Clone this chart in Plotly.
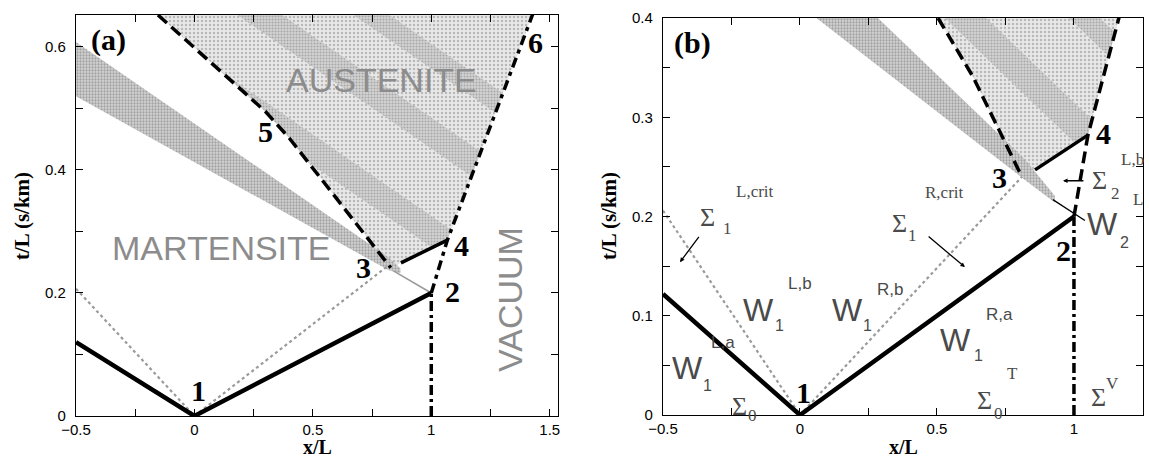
import plotly.graph_objects as go

# ---------------- Panel (a) data ----------------
a_front_x = [-0.5, 0.0, 1.0]
a_front_y = [0.12, 0.0, 0.2]
a_char_x = [-0.5, 0.0, 0.82]
a_char_y = [0.207, 0.0, 0.245]
a_tail_x = [0.84, 1.0]
a_tail_y = [0.236, 0.2]
a_wall_x = [1.0, 1.0]
a_wall_y = [0.0, 0.2]
a_right_x = [1.0, 1.068, 1.427, 1.45]
a_right_y = [0.2, 0.286, 0.652, 0.675]
a_left_x = [-0.154, 0.30, 0.40, 0.55, 0.70, 0.829]
a_left_y = [0.652, 0.495, 0.452, 0.378, 0.305, 0.241]
a_seg_x = [0.872, 1.068]
a_seg_y = [0.249, 0.286]
a_band_x = [-0.5, 0.82, 0.87, 0.87, 0.82, -0.5]
a_band_y = [0.608, 0.258, 0.24, 0.232, 0.237, 0.52]
a_aust_x = a_left_x + [0.872, 1.068, 1.427]
a_aust_y = a_left_y + [0.249, 0.286, 0.652]

# ---------------- Panel (b) data ----------------
b_front_x = [-0.5, 0.0, 1.0]
b_front_y = [0.122, 0.0, 0.2]
b_char_x = [-0.5, 0.0, 0.81]
b_char_y = [0.206, 0.0, 0.24]
b_wall_x = [1.0, 1.0]
b_wall_y = [0.0, 0.2]
b_right_x = [1.0, 1.051, 1.164, 1.18]
b_right_y = [0.2, 0.282, 0.4, 0.417]
b_left_x = [0.504, 0.631, 0.81]
b_left_y = [0.4, 0.341, 0.24]
b_seg_x = [0.858, 1.051]
b_seg_y = [0.247, 0.282]
b_band_x = [-0.5, 0.82, 0.93, 0.93, 0.82, -0.5]
b_band_y = [0.608, 0.258, 0.221, 0.214, 0.237, 0.52]
b_lead_x = [0.923, 1.04]
b_lead_y = [0.217, 0.196]
b_aust_x = b_left_x + [0.858, 1.051, 1.164]
b_aust_y = b_left_y + [0.247, 0.282, 0.4]

# stripe intercepts (y + 0.265 x = c) inside austenite
stripe_slope = -0.265
stripes_a = [(0.54, 0.59), (0.70, 0.75), (0.83, 0.87)]
stripes_b = [(0.54, 0.58), (0.66, 0.69)]

A_XR = [-0.5, 1.535]
A_YR = [0.0, 0.652]
B_XR = [-0.5, 1.252]
B_YR = [0.0, 0.4]


def clip_poly(subject, clip):
    def inside(p, a, b):
        return (b[0]-a[0])*(p[1]-a[1]) - (b[1]-a[1])*(p[0]-a[0]) >= 0

    def inter(p1, p2, a, b):
        x1, y1 = p1; x2, y2 = p2; x3, y3 = a; x4, y4 = b
        den = (x1-x2)*(y3-y4) - (y1-y2)*(x3-x4)
        if den == 0:
            return p2
        t = ((x1-x3)*(y3-y4) - (y1-y3)*(x3-x4)) / den
        return (x1 + t*(x2-x1), y1 + t*(y2-y1))

    out = subject[:]
    for i in range(len(clip)):
        a = clip[i]; b = clip[(i+1) % len(clip)]
        inp = out; out = []
        if not inp:
            break
        s = inp[-1]
        for e in inp:
            if inside(e, a, b):
                if not inside(s, a, b):
                    out.append(inter(s, e, a, b))
                out.append(e)
            elif inside(s, a, b):
                out.append(inter(s, e, a, b))
            s = e
    return out


def stripe_poly(c1, c2):
    x0, x1 = -2.0, 3.0
    return [(x0, c1 + stripe_slope*x0),
            (x1, c1 + stripe_slope*x1),
            (x1, c2 + stripe_slope*x1),
            (x0, c2 + stripe_slope*x0)]


fig = go.Figure()


def add_line(x, y, xa, ya, color='black', width=4, dash='solid'):
    fig.add_trace(go.Scatter(x=x, y=y, mode='lines', xaxis=xa, yaxis=ya,
                             line=dict(color=color, width=width, dash=dash),
                             hoverinfo='skip', showlegend=False))


def add_fill(x, y, xa, ya, bg, fg, size=4, sol=0.35):
    fig.add_trace(go.Scatter(x=list(x) + [x[0]], y=list(y) + [y[0]], mode='lines',
                             xaxis=xa, yaxis=ya, fill='toself',
                             fillcolor=bg, line=dict(width=0, color=bg),
                             fillpattern=dict(shape='.', fgcolor=fg, bgcolor=bg,
                                              size=size, solidity=sol),
                             hoverinfo='skip', showlegend=False))


def add_panel(xa, ya, aust_x, aust_y, band_x, band_y, stripes):
    add_fill(aust_x, aust_y, xa, ya, '#e8e8e8', '#8a8a8a', 4, 0.3)
    subj = list(zip(aust_x, aust_y))
    for c1, c2 in stripes:
        pts = clip_poly(subj, stripe_poly(c1, c2))
        if len(pts) >= 3:
            add_fill([p[0] for p in pts], [p[1] for p in pts], xa, ya,
                     '#d2d2d2', '#7a7a7a', 3, 0.35)
    add_fill(band_x, band_y, xa, ya, '#d4d4d4', '#6e6e6e', 3, 0.45)


# panel (a)
add_panel('x', 'y', a_aust_x, a_aust_y, a_band_x, a_band_y, stripes_a)
add_line(a_char_x, a_char_y, 'x', 'y', '#9a9a9a', 2.2, 'dot')
add_line(a_tail_x, a_tail_y, 'x', 'y', '#9a9a9a', 1.6, 'solid')
add_line(a_front_x, a_front_y, 'x', 'y', 'black', 4.5)
add_line(a_wall_x, a_wall_y, 'x', 'y', 'black', 3.5, '10px,4px,3px,4px')
add_line(a_right_x, a_right_y, 'x', 'y', 'black', 3.5, '10px,5px,4px,5px')
add_line(a_left_x, a_left_y, 'x', 'y', 'black', 3.5, '12px,6px')
add_line(a_seg_x, a_seg_y, 'x', 'y', 'black', 3.5)

# panel (b)
add_panel('x2', 'y2', b_aust_x, b_aust_y, b_band_x, b_band_y, stripes_b)
add_line(b_char_x, b_char_y, 'x2', 'y2', '#9a9a9a', 2.2, 'dot')
add_line(b_lead_x, b_lead_y, 'x2', 'y2', 'black', 1.3)
add_line(b_front_x, b_front_y, 'x2', 'y2', 'black', 4.5)
add_line(b_wall_x, b_wall_y, 'x2', 'y2', 'black', 3.5, '10px,4px,3px,4px')
add_line(b_right_x, b_right_y, 'x2', 'y2', 'black', 3.5, '12px,6px')
add_line(b_left_x, b_left_y, 'x2', 'y2', 'black', 3.5, '12px,6px')
add_line(b_seg_x, b_seg_y, 'x2', 'y2', 'black', 3.5)

W, H = 1149, 461
SERIF = 'Liberation Serif, Times New Roman, serif'
SANS = 'Liberation Sans, Arial, sans-serif'

tickfont = dict(family=SANS, size=15, color='black')


def axis(domain, rng, tickvals, ticktext, minor_dtick, anchor, standoff):
    return dict(domain=domain, range=rng, anchor=anchor, automargin=False,
                showline=True, linecolor='black', linewidth=1.3, mirror='ticks',
                ticks='inside', ticklen=7, tickwidth=1, tickcolor='black',
                tickmode='array', tickvals=tickvals, ticktext=ticktext,
                minor=dict(ticks='inside', ticklen=7, dtick=minor_dtick,
                           tickcolor='black', showgrid=False),
                showgrid=False, zeroline=False, tickfont=tickfont,
                ticklabelstandoff=standoff)


fig.update_layout(
    width=W, height=H, margin=dict(l=0, r=0, t=0, b=0, pad=0, autoexpand=False),
    paper_bgcolor='white', plot_bgcolor='white', showlegend=False,
    xaxis=axis([76/W, 558/W], A_XR, [-0.5, 0, 0.5, 1, 1.5],
               ['\u22120.5', '0', '0.5', '1', '1.5'], 0.25, 'y', 0),
    yaxis=axis([(H-416)/H, (H-15)/H], A_YR, [0, 0.2, 0.4, 0.6],
               ['0', '0.2', '0.4', '0.6'], 0.1, 'x', 6),
    xaxis2=axis([663/W, 1143/W], B_XR, [-0.5, 0, 0.5, 1],
                ['\u22120.5', '0', '0.5', '1'], 0.25, 'y2', 0),
    yaxis2=axis([(H-415)/H, (H-18)/H], B_YR, [0, 0.1, 0.2, 0.3, 0.4],
                ['0', '0.1', '0.2', '0.3', '0.4'], 0.05, 'x2', 6),
)

ann = []


def txt(x, y, s, xr, yr, size, family=SERIF, color='black', bold=False, angle=0,
        yanchor='middle'):
    ann.append(dict(x=x, y=y, xref=xr, yref=yr, text=('<b>%s</b>' % s) if bold else s,
                    showarrow=False, textangle=angle, xanchor='center', yanchor=yanchor,
                    font=dict(family=family, size=size, color=color)))


# axis titles
for cx in (317, 903):
    txt(cx/W, 1.0/H, 'x/L', 'paper', 'paper', 20, bold=True, yanchor='bottom')
for cx in (22, 609):
    txt(cx/W, (H-216)/H, 't/L (s/km)', 'paper', 'paper', 21, bold=True, angle=-90)

# panel (a) labels
a_num_x = [0.017, 1.09, 0.714, 1.128, 0.299, 1.44]
a_num_y = [0.041, 0.202, 0.241, 0.278, 0.462, 0.607]
a_num_t = ['1', '2', '3', '4', '5', '6']
for x, y, t in zip(a_num_x, a_num_y, a_num_t):
    txt(x, y, t, 'x', 'y', 30, bold=True)
txt(-0.363, 0.611, '(a)', 'x', 'y', 30, bold=True)
txt(0.791, 0.546, 'AUSTENITE', 'x', 'y', 34, SANS, '#8c8c8c')
txt(0.115, 0.273, 'MARTENSITE', 'x', 'y', 34, SANS, '#8c8c8c')
txt(1.333, 0.189, 'VACUUM', 'x', 'y', 34, SANS, '#8c8c8c', angle=-90)

# panel (b) labels
b_num_x = [0.011, 0.96, 0.73, 1.106]
b_num_y = [0.023, 0.166, 0.239, 0.284]
for x, y, t in zip(b_num_x, b_num_y, a_num_t[:4]):
    txt(x, y, t, 'x2', 'y2', 30, bold=True)
txt(-0.391, 0.375, '(b)', 'x2', 'y2', 30, bold=True)

GREY = '#4a4a4a'
# W labels: (x, y, sub, sub_x, sub_y, sup, sup_x, sup_y)
w_labels = [
    (-0.153, 0.106, '1', -0.073, 0.090, 'L,b', 0.0, 0.133),
    (0.175, 0.106, '1', 0.245, 0.090, 'R,b', 0.328, 0.126),
    (-0.409, 0.047, '1', -0.339, 0.030, 'L,a', -0.281, 0.073),
    (0.566, 0.076, '1', 0.650, 0.060, 'R,a', 0.730, 0.101),
    (1.105, 0.192, '2', 1.186, 0.174, '', 0, 0),
]
for wx, wy, sb, sx, sy, sp, px, py in w_labels:
    txt(wx, wy, 'W', 'x2', 'y2', 32, SANS, GREY)
    txt(sx, sy, sb, 'x2', 'y2', 16, SANS, GREY)
    if sp:
        txt(px, py, sp, 'x2', 'y2', 17, SANS, GREY)

# Sigma labels
s_labels = [
    (-0.336, 0.1995, '1', -0.266, 0.188, 'L,crit', -0.164, 0.225),
    (0.365, 0.193, '1', 0.412, 0.181, 'R,crit', 0.529, 0.224),
    (-0.219, 0.009, '0', -0.172, 0.0, '', 0, 0),
    (0.675, 0.015, '0', 0.723, 0.002, 'T', 0.777, 0.042),
    (1.088, 0.018, '', 0, 0, 'V', 1.142, 0.032),
    (1.095, 0.236, '2', 1.150, 0.223, 'L,b', 1.215, 0.257),
]
for sx0, sy0, sb, sx, sy, sp, px, py in s_labels:
    txt(sx0, sy0, '\u03a3', 'x2', 'y2', 26, SERIF, GREY)
    if sb:
        txt(sx, sy, sb, 'x2', 'y2', 17, SERIF, GREY)
    if sp:
        txt(px, py, sp, 'x2', 'y2', 17, SERIF, GREY)
txt(1.234, 0.217, 'L', 'x2', 'y2', 17, SERIF, GREY)

# arrows in (b)
arrows = [(-0.365, 0.181, -0.438, 0.154), (0.464, 0.181, 0.602, 0.149),
          (1.040, 0.236, 0.960, 0.236)]
for x0, y0, x1, y1 in arrows:
    ann.append(dict(x=x1, y=y1, ax=x0, ay=y0, xref='x2', yref='y2', axref='x2', ayref='y2',
                    showarrow=True, arrowhead=2, arrowsize=0.7, arrowwidth=1.3,
                    arrowcolor='black', text=''))

fig.update_layout(annotations=ann)
fig.write_html('out.html')
